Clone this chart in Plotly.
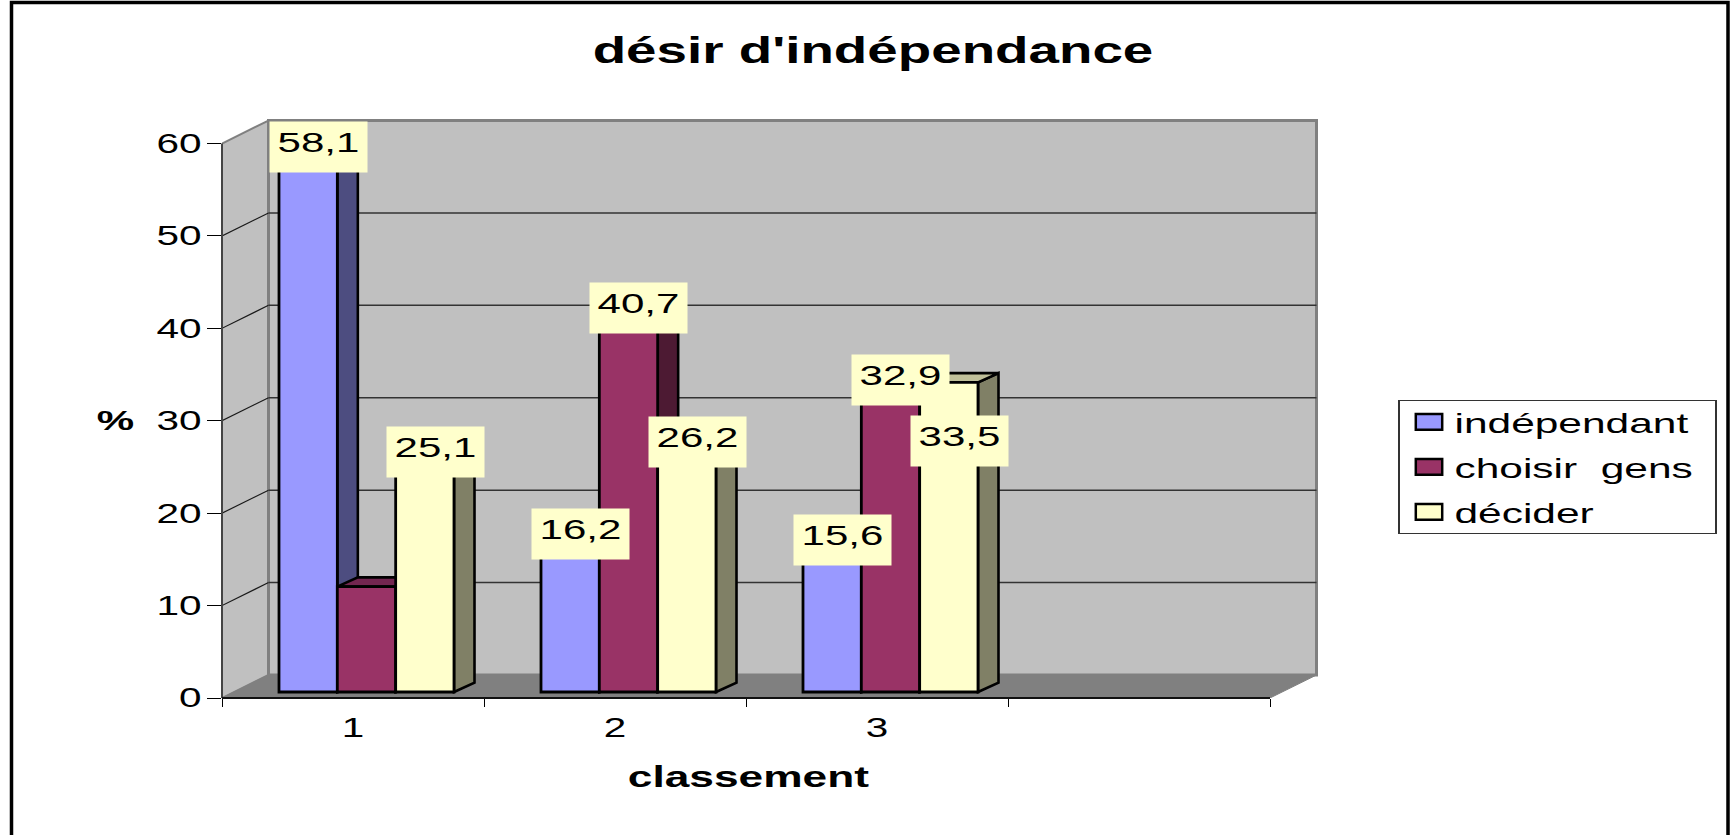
import plotly.graph_objects as go

# ---- data ----
categories = [1, 2, 3]
slot_ticks = [1, 2, 3, 4]
tick_labels = ["1", "2", "3", ""]
series_names = ["indépendant", "choisir  gens", "décider"]
independant = [58.1, 16.2, 15.6]
choisir_gens = [11.4, 40.7, 32.9]
decider = [25.1, 26.2, 33.5]
label_independant = ["58,1", "16,2", "15,6"]
label_choisir = [None, "40,7", "32,9"]
label_decider = ["25,1", "26,2", "33,5"]
# the "33,5" label sits lower than the others in the reference
label_drop_independant = [0, 0, 0]
label_drop_choisir = [0, 0, 0]
label_drop_decider = [0, 0, 7.2]
y_ticks = [0, 10, 20, 30, 40, 50, 60]

series = [independant, choisir_gens, decider]
labels = [label_independant, label_choisir, label_decider]
label_drops = [label_drop_independant, label_drop_choisir, label_drop_decider]
front_colors = ["#9999FF", "#993366", "#FFFFCC"]
side_colors = ["#4D4D80", "#4D1A33", "#808066"]
top_colors = ["#7373BF", "#732650", "#BFBF99"]

# ---- geometry of the pseudo-3D frame (axis units) ----
W, H = 1730, 835
L, R, T, B = 222, 1320, 118, 698
PX_X = 262.0            # pixels per category
PX_Y = 554.5 / 60       # pixels per percent
x0 = 0.5
x1 = x0 + (R - L) / PX_X
y1 = (B - T) / PX_Y
x_end = 4.5
y_top = 60
wall_dx, wall_dy = 46.5 / PX_X, 23 / PX_Y
bar_dx, bar_dy = 20.5 / PX_X, 9.3 / PX_Y
bar_base = 6 / PX_Y
bar_shift = 13.5 / PX_X
group_w = 175 / PX_X
bw = group_w / 3
label_lift = 7.8 / PX_Y


def poly(pts):
    return "M" + " L".join(f"{a},{b}" for a, b in pts) + " Z"


shapes = []


def add_poly(pts, fill, color, width):
    shapes.append(dict(type="path", path=poly(pts), xref="x", yref="y", layer="below",
                       fillcolor=fill, line=dict(color=color, width=width)))


def add_line(xa, ya, xb, yb, color, width):
    shapes.append(dict(type="line", x0=xa, y0=ya, x1=xb, y1=yb, xref="x", yref="y",
                       layer="below", line=dict(color=color, width=width)))


# walls and floor
add_poly([(x0, 0), (x0, y_top), (x0 + wall_dx, y_top + wall_dy), (x0 + wall_dx, wall_dy)],
         "#C0C0C0", "#808080", 2)
add_poly([(x0 + wall_dx, wall_dy), (x0 + wall_dx, y_top + wall_dy),
          (x_end + wall_dx, y_top + wall_dy), (x_end + wall_dx, wall_dy)],
         "#C0C0C0", "#808080", 3)
add_poly([(x0, 0), (x_end, 0), (x_end + wall_dx, wall_dy), (x0 + wall_dx, wall_dy)],
         "#808080", "#808080", 1)
# gridlines
for v in y_ticks[1:-1]:
    add_line(x0, v, x0 + wall_dx, v + wall_dy, "#1A1A1A", 1.2)
    add_line(x0 + wall_dx, v + wall_dy, x_end + wall_dx, v + wall_dy, "#333333", 1.5)

# bar depth faces
for i, c in enumerate(categories):
    for k, vals in enumerate(series):
        xl = c + bar_shift - group_w / 2 + k * bw
        xr = xl + bw
        top = bar_base + vals[i]
        add_poly([(xr, bar_base), (xr + bar_dx, bar_base + bar_dy),
                  (xr + bar_dx, top + bar_dy), (xr, top)], side_colors[k], "black", 2.6)
        add_poly([(xl, top), (xr, top), (xr + bar_dx, top + bar_dy),
                  (xl + bar_dx, top + bar_dy)], top_colors[k], "black", 2.6)

# front axis lines + outer frame
shapes.append(dict(type="line", xref="paper", yref="y", x0=0, x1=0, y0=0, y1=y_top,
                   line=dict(color="#444444", width=2)))
shapes.append(dict(type="line", xref="x", yref="paper", x0=x0, x1=x_end, y0=0, y1=0,
                   line=dict(color="#111111", width=2)))
pw, ph = R - L, B - T
shapes.append(dict(type="rect", xref="paper", yref="paper",
                   x0=(11.5 - L) / pw, x1=(1728 - L) / pw,
                   y0=(B - 845) / ph, y1=(B - 2.5) / ph,
                   line=dict(color="black", width=3.5), fillcolor="rgba(0,0,0,0)"))

fig = go.Figure()
for k, name in enumerate(series_names):
    fig.add_trace(go.Bar(
        name=name, x=[c + bar_shift for c in categories], y=series[k], base=bar_base,
        legendgroup=name, marker=dict(color=front_colors[k], line=dict(color="black", width=2.8)),
        hoverinfo="skip"))

FONT = "Liberation Sans, Arial, sans-serif"
annotations = []
for k, vals in enumerate(series):
    for i, c in enumerate(categories):
        if labels[k][i] is None:
            continue
        annotations.append(dict(
            x=c + bar_shift - group_w / 2 + (k + 0.5) * bw + bar_dx / 2,
            y=bar_base + vals[i] + label_lift - label_drops[k][i], xref="x", yref="y",
            text=labels[k][i], showarrow=False, xanchor="center", yanchor="middle",
            width=88, height=41, bgcolor="#FFFFCC", borderpad=4.5, valign="top",
            font=dict(family=FONT, size=28, color="black")))
annotations.append(dict(
    text="<b>%</b>", xref="paper", yref="paper", x=(115 - L) / pw, y=(B - 420) / ph,
    showarrow=False, xanchor="center", yanchor="middle",
    font=dict(family=FONT, size=28, color="black")))
annotations.append(dict(
    text="<b>classement</b>", xref="paper", yref="paper", x=(748 - L) / pw, y=(B - 776) / ph,
    showarrow=False, xanchor="center", yanchor="middle",
    font=dict(family=FONT, size=29.5, color="black")))

fig.update_layout(
    width=W, height=H,
    margin=dict(l=L, r=W - R, t=T, b=H - B, autoexpand=False),
    paper_bgcolor="white", plot_bgcolor="white",
    barmode="group", bargap=1 - group_w, bargroupgap=0,
    showlegend=True,
    title=dict(text="<b>désir d'indépendance</b>", x=873 / W, y=1 - 50 / H,
               xanchor="center", yanchor="middle", xref="container", yref="container",
               font=dict(family=FONT, size=36.5, color="black")),
    xaxis=dict(range=[x0, x1], tickmode="array", tickvals=slot_ticks, ticktext=tick_labels,
               ticks="", showgrid=False, zeroline=False, showline=False,
               ticklabelstandoff=11, tickfont=dict(family=FONT, size=27, color="black"),
               minor=dict(tickmode="array", tickvals=[0.5, 1.5, 2.5, 3.5, 4.5], ticks="outside",
                          ticklen=8, tickwidth=1.3, tickcolor="black", showgrid=False)),
    yaxis=dict(range=[0, y1], tickmode="array", tickvals=y_ticks, ticks="outside", ticklen=14,
               tickwidth=1.3, tickcolor="black", showgrid=False, zeroline=False, showline=False,
               tickfont=dict(family=FONT, size=27, color="black")),
    legend=dict(x=(1398 - L) / pw, y=(B - 399.5) / ph, xanchor="left", yanchor="top",
                xref="paper", yref="paper",
                bgcolor="white", bordercolor="#333333", borderwidth=1.5,
                font=dict(family=FONT, size=28.3, color="black"),
                itemwidth=45, itemsizing="constant", tracegroupgap=5.2,
                traceorder="grouped"),
    shapes=shapes, annotations=annotations,
)

# The reference picture is stretched horizontally: widen the real text the same way,
# and give the legend box and its swatches the matching proportions.
stretch_js = """
document.body.style.margin = '0';
(function () {
  function widen() {
    document.querySelectorAll('.js-plotly-plot svg text').forEach(function (t) {
      if (!t.textContent.trim()) return;
      t.removeAttribute('textLength');
      t.removeAttribute('lengthAdjust');
      var w = t.getComputedTextLength();
      t.setAttribute('textLength', (w * 1.5).toFixed(1));
      t.setAttribute('lengthAdjust', 'spacingAndGlyphs');
    });
    document.querySelectorAll('.legend .legendpoints path').forEach(function (p) {
      p.setAttribute('transform', 'translate(29.5,0) scale(2.2,1.3)');
      p.style.vectorEffect = 'non-scaling-stroke';
      p.style.strokeWidth = '2.5px';
    });
    document.querySelectorAll('.legend rect.bg').forEach(function (r) {
      r.setAttribute('width', '317');
      r.setAttribute('height', '133');
    });
    document.querySelectorAll('clipPath[id^="legend"] rect').forEach(function (r) {
      r.setAttribute('width', '317');
      r.setAttribute('height', '160');
    });
    document.querySelectorAll('.legend .scrollbox').forEach(function (g) {
      g.setAttribute('transform', 'translate(0,-4)');
    });
  }
  widen();
  setTimeout(widen, 150);
})();
"""
fig.write_html("out.html", post_script=stretch_js, config=dict(displayModeBar=False))
